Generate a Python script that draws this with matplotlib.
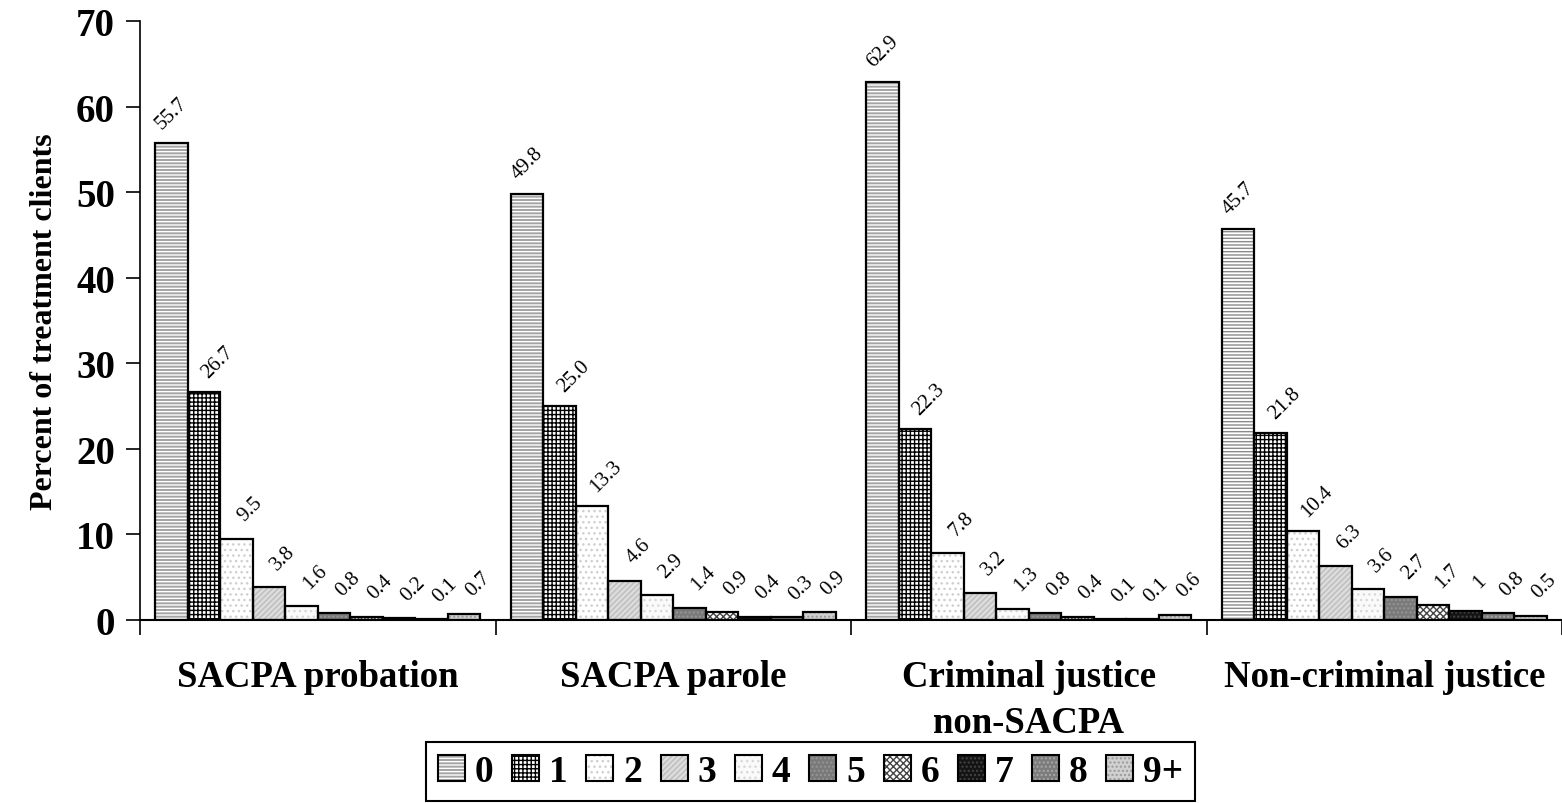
import matplotlib
matplotlib.use("Agg")
import matplotlib.pyplot as plt
import numpy as np
from matplotlib.patches import Patch
from matplotlib.legend_handler import HandlerTuple

plt.rcParams['font.family'] = ['Liberation Serif', 'DejaVu Serif']
plt.rcParams['hatch.linewidth'] = 1.0

groups = ["SACPA probation", "SACPA parole", "Criminal justice\nnon-SACPA", "Non-criminal justice"]
series = ["0", "1", "2", "3", "4", "5", "6", "7", "8", "9+"]
values = [
    [55.7, 26.7, 9.5, 3.8, 1.6, 0.8, 0.4, 0.2, 0.1, 0.7],
    [49.8, 25.0, 13.3, 4.6, 2.9, 1.4, 0.9, 0.4, 0.3, 0.9],
    [62.9, 22.3, 7.8, 3.2, 1.3, 0.8, 0.4, 0.1, 0.1, 0.6],
    [45.7, 21.8, 10.4, 6.3, 3.6, 2.7, 1.7, 1.0, 0.8, 0.5],
]
labels = [
    ["55.7", "26.7", "9.5", "3.8", "1.6", "0.8", "0.4", "0.2", "0.1", "0.7"],
    ["49.8", "25.0", "13.3", "4.6", "2.9", "1.4", "0.9", "0.4", "0.3", "0.9"],
    ["62.9", "22.3", "7.8", "3.2", "1.3", "0.8", "0.4", "0.1", "0.1", "0.6"],
    ["45.7", "21.8", "10.4", "6.3", "3.6", "2.7", "1.7", "1", "0.8", "0.5"],
]
yticks = [0, 10, 20, 30, 40, 50, 60, 70]

# (facecolor, hatch, hatchcolor)
styles = [
    ("#a4a4a4", "-----", "#ffffff"),
    ("#ffffff", "++++", "#000000"),
    ("#ffffff", "...", "#cfcfcf"),
    ("#dcdcdc", "//////", "#bdbdbd"),
    ("#fafafa", "...", "#d8d8d8"),
    ("#7a7a7a", "....", "#969696"),
    ("#ffffff", "xxxxx", "#444444"),
    ("#141414", "....", "#444444"),
    ("#7c7c7c", "....", "#a8a8a8"),
    ("#d0d0d0", "....", "#9a9a9a"),
]

fig = plt.figure(figsize=(15.62, 8.04), dpi=100)
ax = fig.add_axes([140/1562, 183/804, 1422/1562, 599/804])

n = len(series)
bw = 0.0913
x = np.arange(len(groups))
px = 72 / 100  # points per pixel
for i in range(n):
    fc, hatch, hc = styles[i]
    pos = x + (i - (n - 1) / 2) * bw
    vals = [values[g][i] for g in range(len(groups))]
    bars = ax.bar(pos, vals, bw, facecolor=fc, hatch=hatch, edgecolor=hc, linewidth=0, zorder=2)
    if i == 0:
        bars[3].set_facecolor("#ffffff")
        bars[3].set_edgecolor("#8a8a8a")
    ax.bar(pos, vals, bw, fill=False, edgecolor="black", linewidth=1.6, zorder=3)
    dx, dy = (0, 31) if i == 0 else (14, 30)
    for g in range(len(groups)):
        ax.annotate(labels[g][i], xy=(pos[g], vals[g]), xytext=(dx * px, dy * px),
                    textcoords="offset points", rotation=45, rotation_mode="anchor",
                    ha="center", va="center", fontsize=15)

ax.set_xlim(-0.5, -0.5 + 1422/357)
ax.set_ylim(0, 70)
ax.set_yticks(yticks)
ax.set_yticklabels([str(t) for t in yticks], fontsize=28, fontweight="bold")
ax.tick_params(axis="y", direction="out", length=10, width=1.2, pad=8)
ax.set_xticks(np.arange(-0.5, len(groups) + 0.5, 1.0))
ax.set_xticklabels([])
ax.tick_params(axis="x", direction="out", length=11, width=1.2)
for s in ["top", "right"]:
    ax.spines[s].set_visible(False)
ax.spines["left"].set_linewidth(1.2)
ax.spines["bottom"].set_linewidth(1.5)

line_step = 46 / (599 / 70)
for g, name in enumerate(groups):
    for k, line in enumerate(name.split("\n")):
        ax.text(g, -7.7 - k * line_step, line, ha="center", va="baseline",
                fontsize=26.5, fontweight="bold")

ax.set_ylabel("Percent of treatment clients", fontsize=23, fontweight="bold", labelpad=12)

handles = []
for fc, hatch, hc in styles:
    h1 = Patch(facecolor=fc, hatch=hatch, edgecolor=hc, linewidth=0)
    h2 = Patch(fill=False, edgecolor="black", linewidth=1.5)
    handles.append((h1, h2))
leg = fig.legend(handles, series, handler_map={tuple: HandlerTuple(ndivide=1)},
                 loc="upper left", bbox_to_anchor=(426/1562, 1 - 743/804), ncol=10,
                 prop={"size": 27, "weight": "bold"}, fancybox=False, edgecolor="black",
                 framealpha=1, handlelength=0.72, handleheight=0.72, handletextpad=0.26,
                 columnspacing=0.5, borderpad=0.32, borderaxespad=0)
leg.get_frame().set_linewidth(1.5)

fig.savefig("out.png", dpi=100)
